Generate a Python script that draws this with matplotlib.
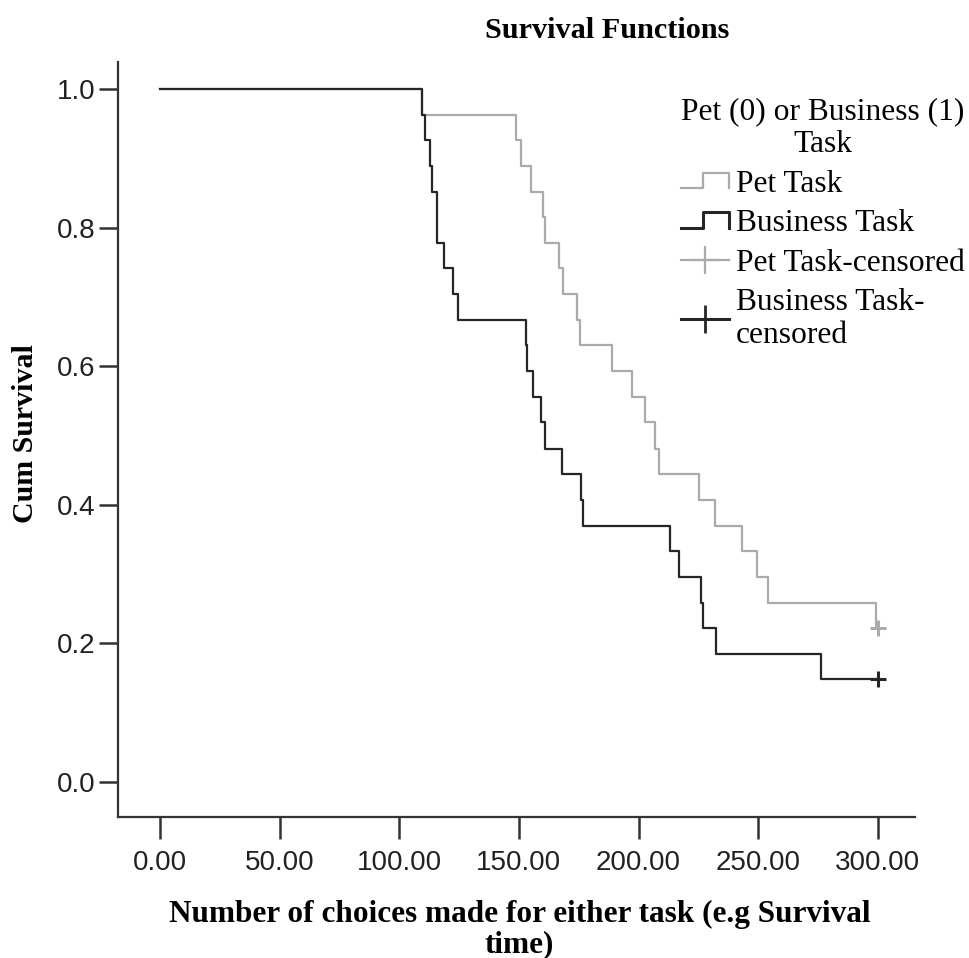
import numpy as np
import matplotlib
matplotlib.use("Agg")
import matplotlib.pyplot as plt
from matplotlib.lines import Line2D
from matplotlib.legend_handler import HandlerBase

# Kaplan-Meier curves (time, cumulative survival)
pet_times = [0, 109.5, 148.8, 150.8, 155.0, 160.0, 160.9, 166.7, 168.4, 174.2, 175.5,
             188.9, 197.2, 202.7, 206.8, 208.5, 225.2, 231.9, 243.2, 249.5, 254.0, 299.0, 300]
pet_surv = [1.0, 0.963, 0.926, 0.889, 0.852, 0.815, 0.778, 0.741, 0.704, 0.667, 0.630,
            0.593, 0.556, 0.519, 0.481, 0.444, 0.407, 0.370, 0.333, 0.296, 0.259, 0.222, 0.222]

bus_times = [0, 109.5, 110.7, 112.8, 113.7, 115.7, 118.7, 122.4, 124.5, 152.9, 153.3, 155.9,
             159.2, 160.9, 168.0, 175.9, 176.7, 213.1, 216.9, 226.1, 226.9, 232.3, 276.2, 300]
bus_surv = [1.0, 0.963, 0.926, 0.889, 0.852, 0.778, 0.741, 0.704, 0.667, 0.630, 0.593, 0.556,
            0.519, 0.481, 0.444, 0.407, 0.370, 0.333, 0.296, 0.259, 0.222, 0.185, 0.148, 0.148]

# censored cases
pet_cens_t = [300]
pet_cens_s = [0.222]
bus_cens_t = [300]
bus_cens_s = [0.148]

xticks = [0, 50, 100, 150, 200, 250, 300]
yticks = [0.0, 0.2, 0.4, 0.6, 0.8, 1.0]

PET_COL = "#ababab"
BUS_COL = "#262626"
SERIF = "Liberation Serif"
SANS = "Liberation Sans"


class StepHandler(HandlerBase):
    # little step icon like the SPSS legend
    def create_artists(self, legend, orig_handle, xdescent, ydescent, width, height, fontsize, trans):
        xs = np.array([0, 0.45, 0.45, 1.0, 1.0]) * width - xdescent
        ys = np.array([0.15, 0.15, 0.85, 0.85, 0.15]) * height - ydescent
        line = Line2D(xs, ys, color=orig_handle.get_color(), lw=orig_handle.get_linewidth())
        line.set_transform(trans)
        return [line]


fig = plt.figure(figsize=(9.69, 9.58), dpi=100)
ax = fig.add_axes([0.1218, 0.1472, 0.8225, 0.7881])

ax.step(pet_times, pet_surv, where="post", color=PET_COL, lw=1.6)
ax.step(bus_times, bus_surv, where="post", color=BUS_COL, lw=1.6)
ax.plot(pet_cens_t, pet_cens_s, "+", color=PET_COL, ms=11, mew=2.2)
ax.plot(bus_cens_t, bus_cens_s, "+", color=BUS_COL, ms=11, mew=2.2)

ax.set_xlim(-17.5, 315.5)
ax.set_ylim(-0.0505, 1.039)
ax.set_xticks(xticks)
ax.set_xticklabels(["%.2f" % v for v in xticks], fontfamily=SANS, fontsize=20, color="#222222")
ax.set_yticks(yticks)
ax.set_yticklabels(["%.1f" % v for v in yticks], fontfamily=SANS, fontsize=20, color="#222222")
ax.tick_params(axis="x", length=16, width=1.8, pad=8, color="#333333")
ax.tick_params(axis="y", length=14, width=1.8, pad=2, color="#333333")

for s in ["top", "right"]:
    ax.spines[s].set_visible(False)
for s in ["left", "bottom"]:
    ax.spines[s].set_linewidth(1.6)
    ax.spines[s].set_color("#333333")

fig.text(0.6265, 0.968, "Survival Functions", ha="center", va="center",
         fontfamily=SERIF, fontweight="bold", fontsize=21.8)
fig.text(0.536, 0.030, "Number of choices made for either task (e.g Survival\ntime)",
         ha="center", va="center", fontfamily=SERIF, fontweight="bold", fontsize=22.5,
         linespacing=1.05)
fig.text(0.026, 0.547, "Cum Survival", ha="center", va="center", rotation=90,
         fontfamily=SERIF, fontweight="bold", fontsize=21.5)

h_pet = Line2D([], [], color=PET_COL, lw=1.6)
h_bus = Line2D([], [], color=BUS_COL, lw=2.2)
h_pet_c = Line2D([], [], color=PET_COL, lw=1.6, marker="+", ms=20, mew=1.6)
h_bus_c = Line2D([], [], color=BUS_COL, lw=2.2, marker="+", ms=20, mew=2.0)

leg = fig.legend([h_pet, h_bus, h_pet_c, h_bus_c],
                 ["Pet Task", "Business Task", "Pet Task-censored", "Business Task-\ncensored"],
                 title="Pet (0) or Business (1)\nTask",
                 handler_map={h_pet: StepHandler(), h_bus: StepHandler()},
                 loc="upper left", bbox_to_anchor=(0.703, 0.899), frameon=False,
                 prop={"family": SERIF, "size": 22.7}, numpoints=1,
                 handlelength=1.5, handletextpad=0.22, labelspacing=0.33,
                 borderpad=0, borderaxespad=0)
leg.get_title().set_fontfamily(SERIF)
leg.get_title().set_fontsize(22.7)
leg.get_title().set_multialignment("center")

fig.savefig("out.png", dpi=100, facecolor="white")
